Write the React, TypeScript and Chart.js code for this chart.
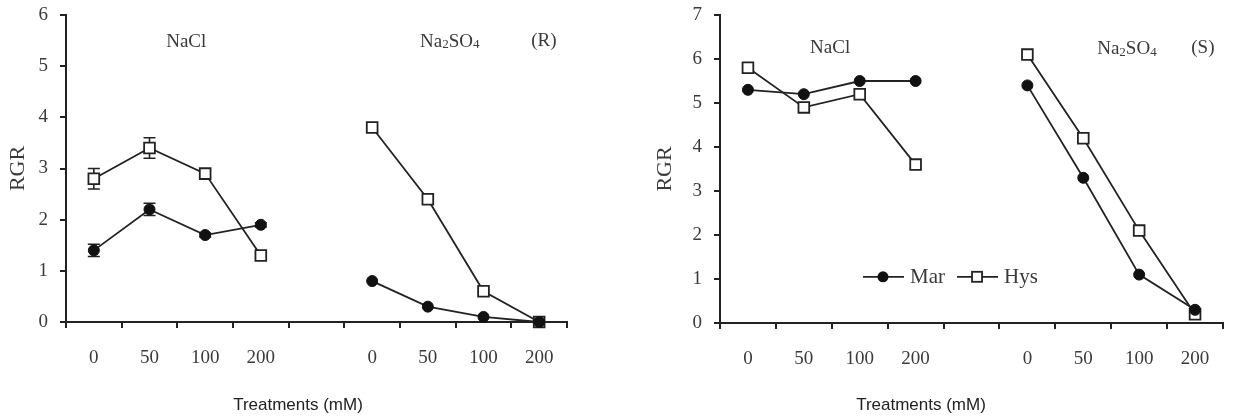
import React, { useEffect, useRef } from "react";
import { Chart, registerables } from "chart.js";

Chart.register(...registerables);

// ---------- data ----------
const categories = ["0", "50", "100", "200", "", "0", "50", "100", "200"];
const seriesNames = ["Mar", "Hys"];

// Panel (R)
const marR = [1.4, 2.2, 1.7, 1.9, null, 0.8, 0.3, 0.1, 0.0];
const hysR = [2.8, 3.4, 2.9, 1.3, null, 3.8, 2.4, 0.6, 0.0];
const marRErr = [0.12, 0.12, 0.04, 0.04, null, 0, 0, 0, 0];
const hysRErr = [0.2, 0.2, 0.07, 0.04, null, 0, 0, 0, 0];
const yMaxR = 6;

// Panel (S)
const marS = [5.3, 5.2, 5.5, 5.5, null, 5.4, 3.3, 1.1, 0.3];
const hysS = [5.8, 4.9, 5.2, 3.6, null, 6.1, 4.2, 2.1, 0.2];
const yMaxS = 7;

const yTitle = "RGR";
const xTitle = "Treatments (mM)";
const groupNames = ["NaCl", "Na2SO4"];

// ---------- styling ----------
const INK = "#222";
const TXT = "#3a3a3a";
const SERIF = '"Liberation Serif", "Times New Roman", serif';
const SANS = '"Liberation Sans", Arial, sans-serif';

function drawRich(ctx: CanvasRenderingContext2D, parts: [string, boolean][], cx: number, cy: number, size: number) {
  const subSize = Math.round(size * 0.7);
  let total = 0;
  const widths: number[] = [];
  for (const [t, sub] of parts) {
    ctx.font = `${sub ? subSize : size}px ${SERIF}`;
    const w = ctx.measureText(t).width;
    widths.push(w);
    total += w;
  }
  let x = cx - total / 2;
  const base = cy + size * 0.33;
  ctx.textBaseline = "alphabetic";
  ctx.textAlign = "left";
  parts.forEach(([t, sub], i) => {
    ctx.font = `${sub ? subSize : size}px ${SERIF}`;
    ctx.fillText(t, x, sub ? base + size * 0.08 : base);
    x += widths[i];
  });
}

function sodiumSulfate(ctx: CanvasRenderingContext2D, cx: number, cy: number, size: number) {
  drawRich(ctx, [["Na", false], ["2", true], ["SO", false], ["4", true]], cx, cy, size);
}

function errorPlugin(errors: (number | null)[][]) {
  return {
    id: "errorBars",
    beforeDatasetsDraw(chart: any) {
      const ctx = chart.ctx;
      const y = chart.scales.y;
      ctx.save();
      ctx.strokeStyle = INK;
      ctx.lineWidth = 1.6;
      errors.forEach((errs, di) => {
        const meta = chart.getDatasetMeta(di);
        const data = chart.data.datasets[di].data;
        errs.forEach((e, i) => {
          if (e == null || e <= 0 || data[i] == null) return;
          const pt = meta.data[i];
          const x = pt.x;
          const yt = y.getPixelForValue(data[i] + e);
          const yb = y.getPixelForValue(data[i] - e);
          ctx.beginPath();
          ctx.moveTo(x, yt);
          ctx.lineTo(x, yb);
          ctx.moveTo(x - 6, yt);
          ctx.lineTo(x + 6, yt);
          ctx.moveTo(x - 6, yb);
          ctx.lineTo(x + 6, yb);
          ctx.stroke();
        });
      });
      ctx.restore();
    },
  };
}

type Ann = {
  nacl: [number, number];
  sulf: [number, number];
  tag: string;
  tagX: number;
  xTitleX: number;
  legend?: { y: number; x: number[] };
};

function annotPlugin(a: Ann) {
  return {
    id: "annot",
    afterDraw(chart: any) {
      const ctx: CanvasRenderingContext2D = chart.ctx;
      const { left, right } = chart.chartArea;
      const ys = chart.scales.y;
      const fx = (f: number) => left + (right - left) * f;
      ctx.save();
      ctx.fillStyle = TXT;
      ctx.textAlign = "center";
      ctx.textBaseline = "middle";
      ctx.font = `19px ${SERIF}`;
      ctx.fillText(groupNames[0], fx(a.nacl[0]), ys.getPixelForValue(a.nacl[1]));
      sodiumSulfate(ctx, fx(a.sulf[0]), ys.getPixelForValue(a.sulf[1]), 19);
      ctx.textAlign = "center";
      ctx.textBaseline = "middle";
      ctx.font = `19px ${SERIF}`;
      ctx.fillText(a.tag, fx(a.tagX), ys.getPixelForValue(a.sulf[1]));
      // x-axis title
      ctx.font = `17px ${SANS}`;
      ctx.fillStyle = "#222";
      ctx.fillText(xTitle, a.xTitleX, 405);
      if (a.legend) {
        const ly = ys.getPixelForValue(a.legend.y);
        a.legend.x.forEach((f, i) => {
          const cx = fx(f);
          ctx.strokeStyle = INK;
          ctx.lineWidth = 1.8;
          ctx.beginPath();
          ctx.moveTo(cx - 20, ly);
          ctx.lineTo(cx + 21, ly);
          ctx.stroke();
          if (i === 0) {
            ctx.fillStyle = "#111";
            ctx.beginPath();
            ctx.arc(cx, ly, 5.5, 0, Math.PI * 2);
            ctx.fill();
          } else {
            ctx.fillStyle = "#fff";
            ctx.fillRect(cx - 5, ly - 5, 10, 10);
            ctx.strokeRect(cx - 5, ly - 5, 10, 10);
          }
          ctx.fillStyle = TXT;
          ctx.font = `21px ${SERIF}`;
          ctx.textAlign = "left";
          ctx.textBaseline = "middle";
          ctx.fillText(seriesNames[i], cx + 27, ly + 1);
        });
      }
      ctx.restore();
    },
  };
}

function buildConfig(opts: {
  mar: (number | null)[];
  hys: (number | null)[];
  yMax: number;
  padLeft: number;
  yWidth: number;
  padRight: number;
  xHeight: number;
  titlePad: number;
  plugins: any[];
}) {
  const axisGrid = {
    display: true,
    drawOnChartArea: false,
    drawTicks: true,
    tickLength: 6,
    color: INK,
    lineWidth: 2,
  };
  return {
    type: "line" as const,
    data: {
      labels: categories,
      datasets: [
        {
          label: seriesNames[0],
          data: opts.mar,
          borderColor: INK,
          borderWidth: 1.8,
          pointStyle: "circle",
          pointRadius: 5.5,
          pointBackgroundColor: "#111",
          pointBorderColor: "#111",
          pointBorderWidth: 1,
          spanGaps: false,
          clip: false as any,
        },
        {
          label: seriesNames[1],
          data: opts.hys,
          borderColor: INK,
          borderWidth: 1.8,
          pointStyle: "rect",
          pointRadius: 7.6,
          pointBackgroundColor: "#fff",
          pointBorderColor: INK,
          pointBorderWidth: 1.8,
          spanGaps: false,
          clip: false as any,
        },
      ],
    },
    options: {
      animation: false as const,
      responsive: true,
      maintainAspectRatio: false,
      layout: { padding: { left: opts.padLeft, right: opts.padRight, top: 15, bottom: 0 } },
      plugins: { legend: { display: false }, tooltip: { enabled: false } },
      scales: {
        x: {
          type: "category" as const,
          offset: true,
          grid: { ...axisGrid, offset: true },
          border: { display: true, color: INK, width: 2 },
          ticks: {
            autoSkip: false,
            maxRotation: 0,
            padding: 19,
            color: TXT,
            font: { family: SERIF, size: 19 },
          },
          afterFit: (s: any) => {
            s.height = opts.xHeight;
          },
        },
        y: {
          min: 0,
          max: opts.yMax,
          grid: axisGrid,
          border: { display: true, color: INK, width: 2 },
          ticks: {
            stepSize: 1,
            padding: 12,
            color: TXT,
            font: { family: SERIF, size: 19, lineHeight: 0.3 },
          },
          title: {
            display: true,
            text: yTitle,
            color: TXT,
            font: { family: SERIF, size: 22 },
            padding: { top: opts.titlePad, bottom: 0 },
          },
          afterFit: (s: any) => {
            s.width = opts.yWidth;
          },
        },
      },
    },
    plugins: opts.plugins,
  };
}

function Panel(props: { left: number; width: number; config: any }) {
  const ref = useRef<HTMLCanvasElement | null>(null);
  useEffect(() => {
    if (!ref.current) return;
    const chart = new Chart(ref.current, props.config);
    return () => chart.destroy();
  }, []);
  return (
    <div style={{ position: "absolute", left: props.left, top: 0, width: props.width, height: 416 }}>
      <canvas ref={ref} />
    </div>
  );
}

export default function App() {
  const cfgR = buildConfig({
    mar: marR,
    hys: hysR,
    yMax: yMaxR,
    padLeft: 0,
    yWidth: 66,
    padRight: 33,
    xHeight: 94,
    titlePad: 5,
    plugins: [
      errorPlugin([marRErr, hysRErr]),
      annotPlugin({ nacl: [0.24, 5.47], sulf: [0.766, 5.5], tag: "(R)", tagX: 0.954, xTitleX: 298 }),
    ],
  });
  const cfgS = buildConfig({
    mar: marS,
    hys: hysS,
    yMax: yMaxS,
    padLeft: 40,
    yWidth: 70,
    padRight: 11,
    xHeight: 93,
    titlePad: 2,
    plugins: [
      annotPlugin({
        nacl: [0.219, 6.25],
        sulf: [0.809, 6.25],
        tag: "(S)",
        tagX: 0.96,
        xTitleX: 311,
        legend: { y: 1.05, x: [0.324, 0.511] },
      }),
    ],
  });
  return (
    <div style={{ position: "fixed", left: 0, top: 0, width: 1234, height: 416, background: "#fff" }}>
      <Panel left={0} width={600} config={cfgR} />
      <Panel left={610} width={624} config={cfgS} />
    </div>
  );
}
